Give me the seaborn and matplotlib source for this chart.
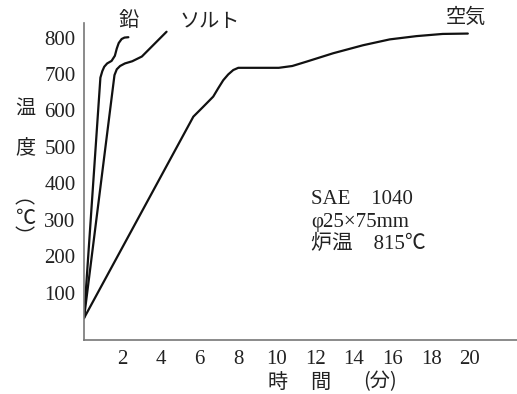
import matplotlib
matplotlib.use("Agg")
import matplotlib.pyplot as plt
import seaborn as sns
import pandas as pd

# ---- data ----
lead_t = [0, 0.85, 0.95, 1.05, 1.2, 1.43, 1.6, 1.7, 1.8, 1.95, 2.1, 2.3]
lead_v = [30, 690, 708, 720, 729, 736, 750, 770, 785, 796, 800, 801]

salt_t = [0, 1.58, 1.7, 1.87, 2.12, 2.5, 3.0, 4.28]
salt_v = [30, 697, 713, 722, 729, 735, 748, 816]

air_t = [0, 5.67, 6.18, 6.7, 6.96, 7.22, 7.48, 7.74, 8.0, 10.1, 10.8, 11.54,
         12.92, 14.47, 15.85, 17.24, 18.6, 19.9]
air_v = [30, 583, 610, 638, 661, 683, 699, 711, 717, 717, 722, 734,
         757, 779, 795, 804, 810, 811]

x_ticks = [2, 4, 6, 8, 10, 12, 14, 16, 18, 20, 22]
x_tick_labels = ["2", "4", "6", "8", "10", "12", "14", "16", "18", "20", ""]
y_ticks = [100, 200, 300, 400, 500, 600, 700, 800]
y_tick_labels = ["100", "200", "300", "400", "500", "600", "700", "800"]

series_names = ["鉛", "ソルト", "空気"]
note_lines = ["SAE　1040", "φ25×75mm", "炉温　815℃"]

# ---- figure ----
sns.set_style("white")
plt.rcParams["font.family"] = ["Liberation Serif", "Noto Sans CJK JP", "DejaVu Sans"]

W, H = 517, 394
fig = plt.figure(figsize=(W / 100, H / 100), dpi=100)
ax = fig.add_axes([84 / W, 1 - 340 / H, 1 - 84 / W, (340 - 23) / H])

for t, v in [(lead_t, lead_v), (salt_t, salt_v), (air_t, air_v)]:
    df = pd.DataFrame({"t": t, "v": v})
    sns.lineplot(data=df, x="t", y="v", ax=ax, color="#111111", lw=1.6,
                 sort=False, estimator=None)

ax.set_xlim(0, 22.45)
ax.set_ylim(-30, 840)
ax.set_xticks(x_ticks)
ax.set_xticklabels(x_tick_labels)
ax.set_yticks(y_ticks)
ax.set_yticklabels(y_tick_labels)
ax.set_xlabel("")
ax.set_ylabel("")
for s in ["top", "right"]:
    ax.spines[s].set_visible(False)
for s in ["left", "bottom"]:
    ax.spines[s].set_color("#777777")
    ax.spines[s].set_linewidth(1.2)
ax.tick_params(axis="both", direction="in", length=6, width=1.2,
               color="#777777", labelsize=15, labelcolor="#222222")
ax.tick_params(axis="y", pad=6)
ax.tick_params(axis="x", pad=7)


def px(x, y):
    return x / W, 1 - y / H


jp = ["Noto Sans CJK JP", "DejaVu Sans"]
mix = ["Liberation Serif", "Noto Sans CJK JP", "DejaVu Sans"]
fs_jp = 14.5

# series labels
fig.text(*px(129, 21), series_names[0], family=jp, fontsize=fs_jp, ha="center", va="center", color="#222222")
fig.text(*px(210, 21), series_names[1], family=jp, fontsize=fs_jp, ha="center", va="center", color="#222222")
fig.text(*px(466, 17), series_names[2], family=jp, fontsize=fs_jp, ha="center", va="center", color="#222222")

# y label (vertical)
fig.text(*px(25, 108), "温", family=jp, fontsize=fs_jp, ha="center", va="center", color="#222222")
fig.text(*px(25, 148), "度", family=jp, fontsize=fs_jp, ha="center", va="center", color="#222222")
fig.text(*px(25, 198), "︵", family=jp, fontsize=fs_jp, ha="center", va="center", color="#222222")
fig.text(*px(25, 218), "℃", family=jp, fontsize=fs_jp, ha="center", va="center", color="#222222")
fig.text(*px(25, 238), "︶", family=jp, fontsize=fs_jp, ha="center", va="center", color="#222222")

# x label
fig.text(*px(278, 382), "時", family=jp, fontsize=fs_jp, ha="center", va="center", color="#222222")
fig.text(*px(320, 382), "間", family=jp, fontsize=fs_jp, ha="center", va="center", color="#222222")
fig.text(*px(380, 382), "(分)", family=jp, fontsize=fs_jp, ha="center", va="center", color="#222222")

# note
for i, line in enumerate(note_lines):
    fig.text(*px(311, 200 + i * 22.5), line, family=mix, fontsize=15,
             ha="left", va="center", color="#222222")

fig.savefig("out.png", dpi=100)
